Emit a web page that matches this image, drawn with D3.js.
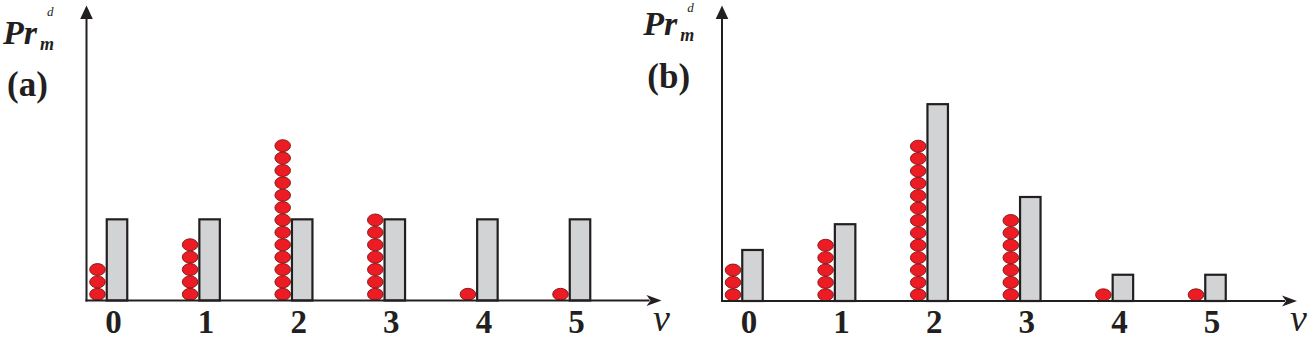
<!DOCTYPE html>
<html>
<head>
<meta charset="utf-8">
<script src="https://cdn.jsdelivr.net/npm/d3@7"></script>
<style>
  html, body { margin: 0; padding: 0; background: #fff; }
  svg { display: block; }
</style>
</head>
<body>
<svg id="chart" width="1315" height="339"></svg>
<script>
// ---- data ----
const categories = [0, 1, 2, 3, 4, 5];
const tickLabels = ["0", "1", "2", "3", "4", "5"];
const sampleCounts = [3, 5, 13, 7, 1, 1];           // red ellipses (same in both panels)
const probA = [0.167, 0.167, 0.167, 0.167, 0.167, 0.167];   // grey bars, panel (a)
const probB = [0.105, 0.158, 0.405, 0.214, 0.054, 0.054];   // grey bars, panel (b)
const panelLabels = ["(a)", "(b)"];

const svg = d3.select("#chart");
const serif = "'Liberation Serif', 'Times New Roman', Times, serif";

const panels = [
  { probs: probA, label: panelLabels[0], dx: 0,     base: 300.5, prY: 44, dY: 16, labY: 96, vX: 653 },
  { probs: probB, label: panelLabels[1], dx: 635.5, base: 301,   prY: 35, dY: 12, labY: 88, vX: 1290 }
];

panels.forEach(p => {
  const g = svg.append("g");
  const axisX = 86.5 + p.dx;

  const x = d3.scaleLinear().domain([0, 5]).range([117 + p.dx, 580 + p.dx]);
  const yP = d3.scaleLinear().domain([0, 0.6]).range([p.base, p.base - 0.6 * 486]);
  const yC = d3.scaleLinear().domain([0, 13]).range([p.base, p.base - 161]);
  const barW = 20.5;

  // grey bars
  g.selectAll("rect.bar").data(categories).enter().append("rect")
    .attr("class", "bar")
    .attr("x", d => x(d) - barW / 2)
    .attr("y", (d, i) => yP(p.probs[i]))
    .attr("width", barW)
    .attr("height", (d, i) => yP(0) - yP(p.probs[i]))
    .attr("fill", "#d1d3d4")
    .attr("stroke", "#231f20")
    .attr("stroke-width", 2.2);

  // red ellipse stacks
  const dots = [];
  categories.forEach((c, i) => {
    for (let k = 0; k < sampleCounts[i]; k++) dots.push({ c, k });
  });
  g.selectAll("ellipse.dot").data(dots).enter().append("ellipse")
    .attr("class", "dot")
    .attr("cx", d => x(d.c) - 19.5)
    .attr("cy", d => yC(d.k + 0.5))
    .attr("rx", 7.8)
    .attr("ry", (yC(0) - yC(1)) / 2 - 0.2)
    .attr("fill", "#ed1c24")
    .attr("stroke", "#7a1414")
    .attr("stroke-width", 0.9);

  // axes lines with arrows
  const axisColor = "#231f20";
  g.append("line")
    .attr("x1", axisX).attr("x2", axisX)
    .attr("y1", p.base + 1).attr("y2", 17)
    .attr("stroke", axisColor).attr("stroke-width", 2);
  g.append("path")
    .attr("d", `M${axisX},5.5 L${axisX - 6.3},19 L${axisX + 6.3},19 Z`)
    .attr("fill", axisColor);
  const xEnd = 661.5 + p.dx;
  g.append("line")
    .attr("x1", axisX - 1).attr("x2", xEnd - 12)
    .attr("y1", p.base).attr("y2", p.base)
    .attr("stroke", axisColor).attr("stroke-width", 2);
  g.append("path")
    .attr("d", `M${xEnd},${p.base} L${xEnd - 15},${p.base - 5.5} L${xEnd - 11},${p.base} L${xEnd - 15},${p.base + 5.5} Z`)
    .attr("fill", axisColor);

  // tick labels via d3 axis
  const xLab = d3.scaleLinear().domain([0, 5]).range([117 + p.dx - 4, 580 + p.dx - 4]);
  const ax = g.append("g")
    .attr("transform", `translate(0,${p.base})`)
    .call(d3.axisBottom(xLab).tickValues(categories).tickFormat((d, i) => tickLabels[i]).tickSize(0).tickPadding(0));
  ax.select(".domain").remove();
  ax.selectAll("text")
    .attr("dy", null)
    .attr("y", 32)
    .attr("font-family", serif)
    .attr("font-weight", "bold")
    .attr("font-size", 33)
    .attr("fill", "#231f20");

  // x axis title
  g.append("text")
    .attr("x", p.vX).attr("y", 331)
    .attr("font-family", serif)
    .attr("font-style", "italic")
    .attr("font-size", 38)
    .attr("fill", "#231f20")
    .text("v");

  // y axis title: Pr_m^d
  const lx = 3 + p.dx * 1.0075;
  g.append("text")
    .attr("x", lx).attr("y", p.prY)
    .attr("font-family", serif)
    .attr("font-style", "italic")
    .attr("font-weight", "bold")
    .attr("font-size", 34)
    .attr("fill", "#231f20")
    .text("Pr");
  g.append("text")
    .attr("x", lx + 37).attr("y", p.prY + 5.5)
    .attr("font-family", serif)
    .attr("font-style", "italic")
    .attr("font-weight", "bold")
    .attr("font-size", 18)
    .attr("fill", "#231f20")
    .text("m");
  g.append("text")
    .attr("x", lx + 44).attr("y", p.dY)
    .attr("font-family", serif)
    .attr("font-style", "italic")
    .attr("font-size", 13)
    .attr("fill", "#231f20")
    .text("d");

  // panel label
  g.append("text")
    .attr("x", lx + 4).attr("y", p.labY)
    .attr("font-family", serif)
    .attr("font-weight", "bold")
    .attr("font-size", 35)
    .attr("fill", "#231f20")
    .text(p.label);
});
</script>
</body>
</html>
